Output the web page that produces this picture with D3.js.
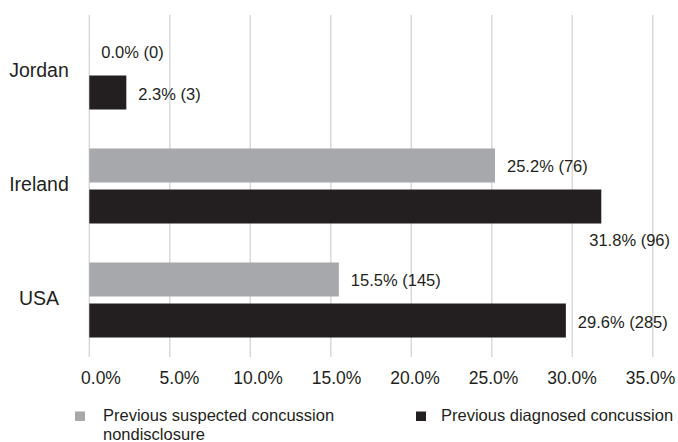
<!DOCTYPE html>
<html>
<head>
<meta charset="utf-8">
<script src="https://cdn.jsdelivr.net/npm/d3@7"></script>
<style>
  html, body { margin: 0; padding: 0; background: #fff; }
  svg { display: block; font-family: "Liberation Sans", Arial, Helvetica, sans-serif; }
</style>
</head>
<body>
<svg id="chart" width="678" height="442"></svg>
<script>
// ---- data ----
const countries = ["Jordan", "Ireland", "USA"];
const seriesNames = ["Previous suspected concussion nondisclosure", "Previous diagnosed concussion"];
const suspectedPct = [0.0, 25.2, 15.5];
const suspectedN = [0, 76, 145];
const diagnosedPct = [2.3, 31.8, 29.6];
const diagnosedN = [3, 96, 285];
const tickValues = [0, 5, 10, 15, 20, 25, 30, 35];

// ---- layout ----
const svg = d3.select("#chart");
const colors = ["#a7a8ab", "#231f20"];
const textColor = "#231f20";

const x = d3.scaleLinear().domain([0, 35]).range([89.3, 652.8]);
const xLabel = d3.scaleLinear().domain([0, 35]).range([101, 650.5]);
const y = d3.scaleBand().domain(countries).range([15, 357]).paddingInner(0.342).paddingOuter(0.171);
const ySub = d3.scaleBand().domain([0, 1]).range([0, y.bandwidth()]).paddingInner(0.171).paddingOuter(0);

const rows = [];
countries.forEach((c, i) => {
  rows.push({ country: c, s: 0, pct: suspectedPct[i], n: suspectedN[i] });
  rows.push({ country: c, s: 1, pct: diagnosedPct[i], n: diagnosedN[i] });
});

// gridlines
svg.append("g").selectAll("line").data(tickValues).join("line")
  .attr("x1", d => x(d)).attr("x2", d => x(d))
  .attr("y1", 15).attr("y2", 357)
  .attr("stroke", "#d9d9d9").attr("stroke-width", 1.5);

// bars
svg.append("g").selectAll("rect").data(rows).join("rect")
  .attr("x", x(0))
  .attr("y", d => y(d.country) + ySub(d.s))
  .attr("width", d => x(d.pct) - x(0))
  .attr("height", ySub.bandwidth())
  .attr("fill", d => colors[d.s]);

// value labels
svg.append("g").selectAll("text").data(rows).join("text")
  .attr("x", d => d.pct > 30 ? x(d.pct) - 12 : x(d.pct) + 12)
  .attr("y", d => {
    const cy = y(d.country) + ySub(d.s) + ySub.bandwidth() / 2;
    return d.pct > 30 ? y(d.country) + ySub(d.s) + ySub.bandwidth() + 22 : cy + 7;
  })
  .attr("font-size", 16.5)
  .attr("fill", textColor)
  .text(d => d.pct.toFixed(1) + "% (" + d.n + ")");

// category labels
svg.append("g").selectAll("text").data(countries).join("text")
  .attr("x", 39)
  .attr("y", d => y(d) + y.bandwidth() / 2 + 5)
  .attr("text-anchor", "middle")
  .attr("font-size", 19.5)
  .attr("fill", textColor)
  .text(d => d);

// x axis tick labels
svg.append("g").selectAll("text").data(tickValues).join("text")
  .attr("x", d => xLabel(d))
  .attr("y", 384)
  .attr("text-anchor", "middle")
  .attr("font-size", 17.5)
  .attr("fill", textColor)
  .text(d => d.toFixed(1) + "%");

// legend
const legend = svg.append("g");
const legendX = [75, 416];
const legendLines = [["Previous suspected concussion", "nondisclosure"], ["Previous diagnosed concussion"]];
legendLines.forEach((lines, i) => {
  legend.append("rect")
    .attr("x", legendX[i]).attr("y", 411.5)
    .attr("width", 10).attr("height", 9.5)
    .attr("fill", colors[i]);
  const t = legend.append("text")
    .attr("x", legendX[i] + 28 - (i === 1 ? 3 : 0))
    .attr("y", 421)
    .attr("font-size", 16.5)
    .attr("fill", textColor);
  lines.forEach((ln, j) => {
    t.append("tspan").attr("x", legendX[i] + 28 - (i === 1 ? 3 : 0)).attr("dy", j === 0 ? 0 : 19).text(ln);
  });
});
</script>
</body>
</html>
